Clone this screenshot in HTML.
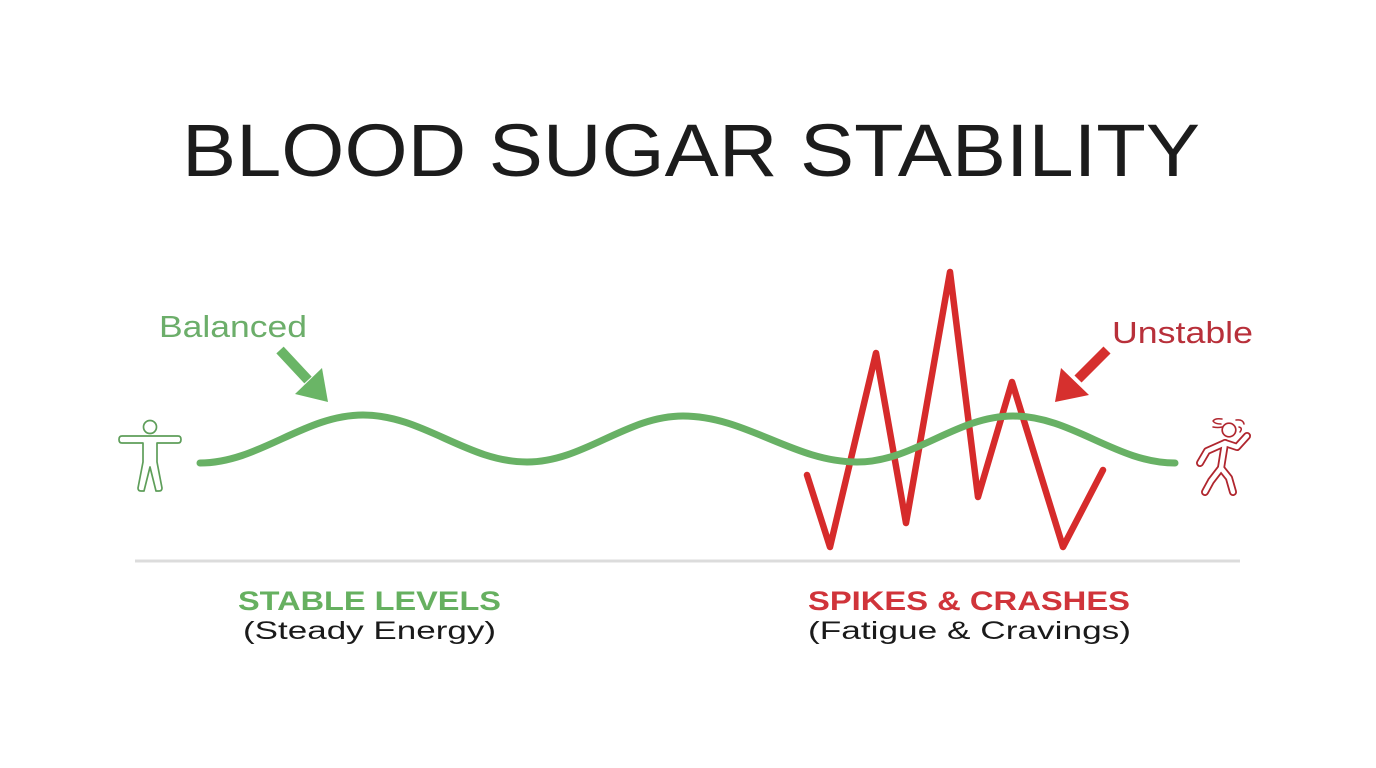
<!DOCTYPE html>
<html>
<head>
<meta charset="utf-8">
<style>
  html,body{margin:0;padding:0;background:#fff;}
  svg{display:block;}
  text{font-family:"Liberation Sans",sans-serif;}
</style>
</head>
<body>
<svg width="1376" height="768" viewBox="0 0 1376 768" xmlns="http://www.w3.org/2000/svg">
  <rect width="1376" height="768" fill="#ffffff"/>

  <!-- Title -->
  <text x="182" y="176" font-size="74" fill="#1c1c1c" textLength="1018" lengthAdjust="spacingAndGlyphs">BLOOD SUGAR STABILITY</text>

  <!-- Labels -->
  <text x="159" y="337" font-size="31" fill="#6cae6a" textLength="148" lengthAdjust="spacingAndGlyphs">Balanced</text>
  <text x="1112" y="343" font-size="31" fill="#b8303a" textLength="141" lengthAdjust="spacingAndGlyphs">Unstable</text>

  <!-- Green arrow -->
  <line x1="280" y1="350" x2="308" y2="380" stroke="#6ab566" stroke-width="10"/>
  <polygon points="328,402 295,394 322,368" fill="#6ab566"/>

  <!-- Red arrow -->
  <line x1="1107" y1="350" x2="1078" y2="379" stroke="#d6302e" stroke-width="10"/>
  <polygon points="1055,402 1061,368 1089,395" fill="#d6302e"/>

  <!-- Red zigzag -->
  <polyline points="807,475 830,547 876,353 906,523 950,272 978,497 1012,382 1063,547 1103,470"
            fill="none" stroke="#d62b2b" stroke-width="6.5" stroke-linejoin="round" stroke-linecap="round"/>

  <!-- Green wave -->
  <path d="M200,463
           C259,463 304,415 363,415
           C423,415 467,462 527,462
           C584,462 626,416 683,416
           C746,416 794,462 857,462
           C914,462 956,416 1013,416
           C1072,416 1116,463 1175,463"
        fill="none" stroke="#68b165" stroke-width="7" stroke-linecap="round"/>

  <!-- Left icon (person) -->
  <g fill="#ffffff" stroke="#5e9e5a" stroke-width="1.7" stroke-linejoin="round">
    <circle cx="150" cy="427" r="6.5"/>
    <path d="M143,443 L122,443 Q119,443 119,439.5 Q119,436 122,436 L178,436 Q181,436 181,439.5 Q181,443 178,443 L157,443 L157,462 L162,488 Q162,491 159,491 L156,491 L150,467 L144,491 L141,491 Q138,491 138,488 L143,462 Z"/>
  </g>

  <!-- Right icon (dizzy person) -->
  <g fill="none" stroke-linecap="round" stroke-linejoin="round">
    <g stroke="#b0262e" stroke-width="8">
      <polyline points="1247,436 1237,447 1225,443 1207,451 1200,463"/>
      <polyline points="1225,443 1221,468 1211,481 1205,492"/>
      <polyline points="1221,468 1229,478 1233,492"/>
    </g>
    <g stroke="#ffffff" stroke-width="4.4">
      <polyline points="1247,436 1237,447 1225,443 1207,451 1200,463"/>
      <polyline points="1225,443 1221,468 1211,481 1205,492"/>
      <polyline points="1221,468 1229,478 1233,492"/>
    </g>
    <circle cx="1229" cy="430" r="6.8" fill="#ffffff" stroke="#b0262e" stroke-width="1.7"/>
    <path d="M1222,419 Q1215,418 1213,421 Q1215,424 1221,424" stroke="#b0262e" stroke-width="1.5"/>
    <path d="M1213,427 Q1218,428 1222,427" stroke="#b0262e" stroke-width="1.5"/>
    <path d="M1236,420 Q1243,419 1244,424" stroke="#b0262e" stroke-width="1.5"/>
    <path d="M1239,427 Q1243,428 1240,432" stroke="#b0262e" stroke-width="1.5"/>
  </g>

  <!-- Divider -->
  <line x1="135" y1="561" x2="1240" y2="561" stroke="#dcdcdc" stroke-width="3"/>

  <!-- Bottom labels -->
  <text x="238" y="610" font-size="27" font-weight="bold" fill="#66b060" textLength="263" lengthAdjust="spacingAndGlyphs">STABLE LEVELS</text>
  <text x="243" y="639" font-size="25" fill="#1a1a1a" textLength="253" lengthAdjust="spacingAndGlyphs">(Steady Energy)</text>

  <text x="808" y="610" font-size="27" font-weight="bold" fill="#d0343a" textLength="322" lengthAdjust="spacingAndGlyphs">SPIKES &amp; CRASHES</text>
  <text x="808" y="639" font-size="25" fill="#1a1a1a" textLength="323" lengthAdjust="spacingAndGlyphs">(Fatigue &amp; Cravings)</text>
</svg>
</body>
</html>
